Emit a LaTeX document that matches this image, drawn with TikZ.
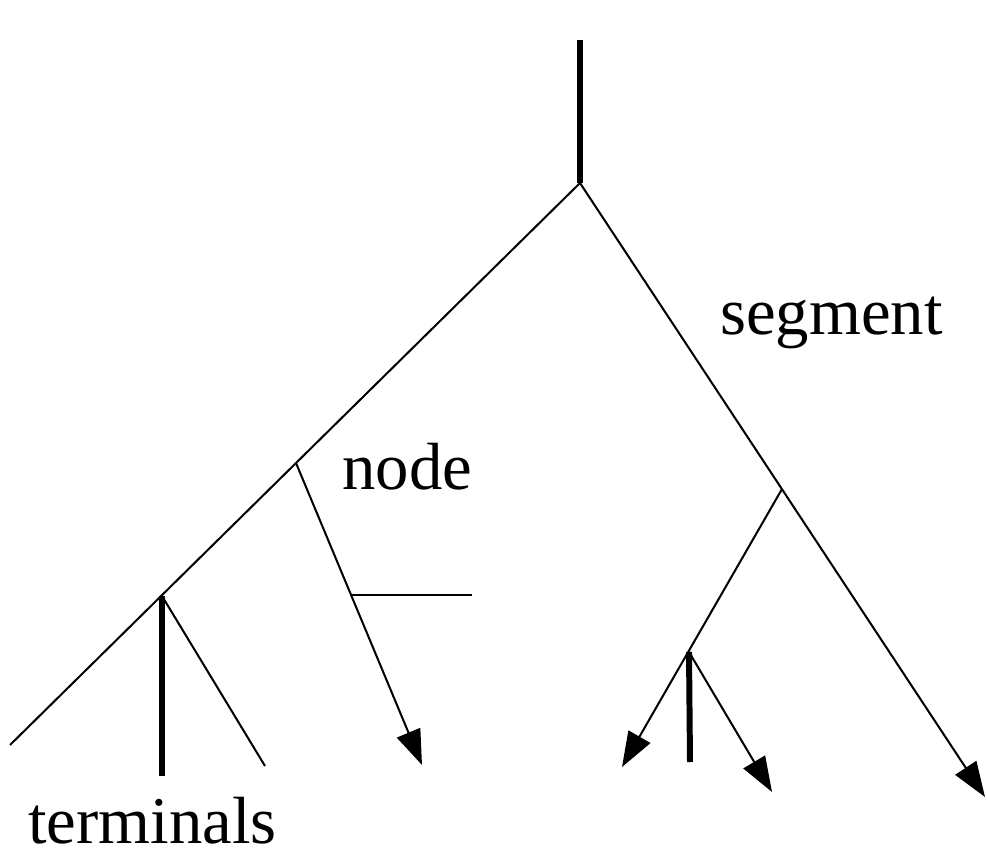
\documentclass[tikz,border=0pt]{standalone}
\usepackage{fontspec}
\setmainfont{Liberation Serif}
\usetikzlibrary{arrows.meta}
\tikzset{
  ramo/.style={line width=1.15pt},
  terminale/.style={line width=3.4pt},
  freccia/.style={ramo, -{Triangle[length=0.7cm,width=0.5cm]}},
  etichetta/.style={anchor=base west, inner sep=0pt, font=\fontsize{38}{40}\selectfont}
}
\begin{document}
\begin{tikzpicture}[x=0.02cm, y=-0.02cm]
\useasboundingbox (0, 0) rectangle (987, 864);
% punti
\coordinate (top) at (580, 40);
\coordinate (root) at (580, 183);
\coordinate (sx) at (10, 745);
\coordinate (a) at (296, 463);
\coordinate (b) at (162, 596);
\coordinate (c) at (351, 595);
\coordinate (c2) at (472, 595);
\coordinate (afine) at (422, 765);
\coordinate (b1) at (162, 776);
\coordinate (b2) at (265, 766);
\coordinate (d) at (782, 489);
\coordinate (dx) at (985, 797);
\coordinate (e) at (689, 652);
\coordinate (e1) at (622, 767);
\coordinate (e2) at (690, 762);
\coordinate (e3) at (772, 792);
% tronco
\draw[terminale] (top) -- (root);
% ramo sinistro
\draw[ramo] (root) -- (sx);
\draw[freccia] (a) -- (afine);
\draw[ramo] (c) -- (c2);
\draw[terminale] (b) -- (b1);
\draw[ramo] (b) -- (b2);
% ramo destro
\draw[freccia] (root) -- (dx);
\draw[freccia] (d) -- (e1);
\draw[terminale] (e) -- (e2);
\draw[freccia] (e) -- (e3);
% etichette
\node[etichetta] (segment) at (720, 335) {segment};
\node[etichetta] (node) at (342, 490) {node};
\node[etichetta] (terminals) at (28, 843) {terminals};
\end{tikzpicture}
\end{document}
